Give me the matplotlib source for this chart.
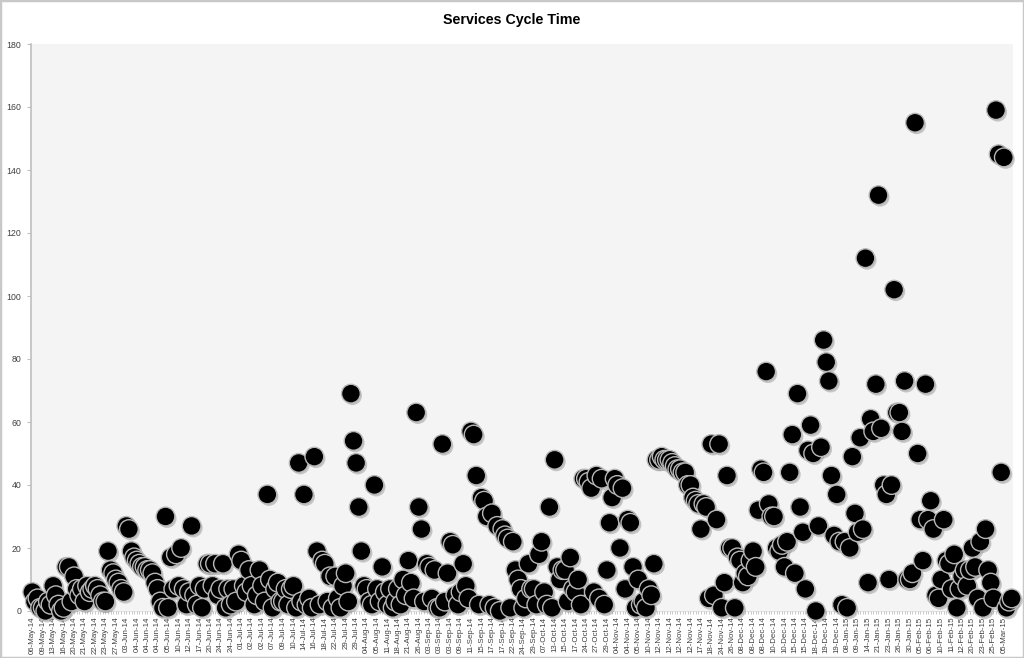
import matplotlib
matplotlib.use("Agg")
import matplotlib.pyplot as plt
import matplotlib.patheffects as pe
from matplotlib.patches import Rectangle
import numpy as np

title = "Services Cycle Time"

# one tick label per 4 data points
tick_labels = [
    "06-May-14", "09-May-14", "13-May-14", "16-May-14", "20-May-14", "21-May-14",
    "22-May-14", "23-May-14", "27-May-14", "03-Jun-14", "04-Jun-14", "04-Jun-14",
    "04-Jun-14", "05-Jun-14", "10-Jun-14", "12-Jun-14", "17-Jun-14", "20-Jun-14",
    "24-Jun-14", "24-Jun-14", "01-Jul-14", "02-Jul-14", "02-Jul-14", "07-Jul-14",
    "09-Jul-14", "10-Jul-14", "14-Jul-14", "16-Jul-14", "18-Jul-14", "22-Jul-14",
    "29-Jul-14", "29-Jul-14", "04-Aug-14", "05-Aug-14", "11-Aug-14", "18-Aug-14",
    "21-Aug-14", "26-Aug-14", "03-Sep-14", "03-Sep-14", "03-Sep-14", "09-Sep-14",
    "11-Sep-14", "15-Sep-14", "17-Sep-14", "17-Sep-14", "22-Sep-14", "24-Sep-14",
    "29-Sep-14", "07-Oct-14", "13-Oct-14", "15-Oct-14", "17-Oct-14", "24-Oct-14",
    "27-Oct-14", "29-Oct-14", "04-Nov-14", "04-Nov-14", "05-Nov-14", "10-Nov-14",
    "12-Nov-14", "12-Nov-14", "12-Nov-14", "12-Nov-14", "17-Nov-14", "18-Nov-14",
    "24-Nov-14", "26-Nov-14", "08-Dec-14", "08-Dec-14", "08-Dec-14", "10-Dec-14",
    "10-Dec-14", "15-Dec-14", "15-Dec-14", "18-Dec-14", "19-Dec-14", "19-Dec-14",
    "08-Jan-15", "09-Jan-15", "14-Jan-15", "21-Jan-15", "23-Jan-15", "26-Jan-15",
    "30-Jan-15", "05-Feb-15", "06-Feb-15", "10-Feb-15", "11-Feb-15", "12-Feb-15",
    "20-Feb-15", "23-Feb-15", "25-Feb-15", "05-Mar-15",
]

# cycle time (days), 4 values per tick label
cycle_may_jun = [
    6, 3, 4, 1,   1, 0, 3, 2,   8, 5, 2, 0,   1, 14, 14, 3,
    11, 7, 5, 7,  3, 8, 6, 7,   8, 7, 5, 3,   3, 19, 13, 12,
    10, 9, 7, 6,  27, 26, 19, 17,  16, 15, 14, 14,  13, 13, 12, 9,
    7, 3, 1, 30,  1, 17, 7, 18,  8, 20, 7, 2,  6, 27, 5, 2,
    8, 1, 7, 15,  15, 8, 15, 5,  7, 15, 1, 7,  2, 7, 3, 18,
]
cycle_jul_aug = [
    16, 8, 6, 13,  8, 2, 5, 13,  8, 3, 37, 10,  1, 7, 9, 3,
    3, 7, 2, 7,   8, 1, 47, 3,  37, 2, 4, 1,  49, 19, 2, 16,
    15, 3, 11, 1,  11, 4, 1, 8,  12, 3, 69, 54,  47, 33, 19, 8,
    7, 3, 2, 40,  7, 3, 14, 6,  2, 7, 1, 3,  7, 2, 10, 5,
    16, 9, 4, 63,  33, 26, 3, 15,
]
cycle_sep_oct = [
    14, 4, 13, 1,  1, 53, 3, 12,  22, 21, 5, 2,  6, 15, 8, 4,
    57, 56, 43, 2,  36, 35, 30, 2,  31, 1, 27, 0,  26, 24, 23, 1,
    22, 13, 10, 7,  1, 4, 15, 7,  7, 2, 18, 22,  6, 2, 33, 1,
    48, 14, 10, 13,  13, 3, 17, 7,  6, 10, 2, 42,  42, 41, 39, 6,
    43, 4, 42, 2,
]
cycle_nov_dec = [
    13, 28, 36, 42,  40, 20, 39, 7,  29, 28, 14, 1,  10, 2, 3, 1,
    7, 5, 15, 48,  48, 49, 48, 48,  48, 47, 46, 45,  45, 44, 44, 40,
    40, 36, 35, 34,  26, 34, 33, 4,  53, 5, 29, 53,  1, 9, 43, 20,
    20, 1, 17, 16,  9, 12, 11, 16,  19, 14, 32, 45,  44, 76, 34, 30,
    30, 20, 19, 21,  14, 22, 44, 56,  12, 69, 33, 25,  7, 51, 59, 50,
    0, 27, 52, 86,  79, 73, 43, 24,  37, 22, 2, 22,
]
cycle_jan_mar = [
    1, 20, 49, 31,  25, 55, 26, 112,  9, 61, 57, 72,  132, 58, 40, 37,
    10, 40, 102, 63,  63, 57, 73, 10,  10, 12, 155, 50,  29, 16, 72, 29,
    35, 26, 5, 4,  10, 29, 16, 15,  7, 18, 1, 7,  11, 13, 8, 13,
    20, 14, 4, 22,  1, 26, 13, 9,  4, 159, 145, 44,  144, 1, 3, 4,
]

values = cycle_may_jun + cycle_jul_aug + cycle_sep_oct + cycle_nov_dec + cycle_jan_mar
label_step = 4

fig = plt.figure(figsize=(10.24, 6.58), dpi=100)
fig.patch.set_facecolor("white")
ax = fig.add_axes([31 / 1024, 47 / 658, (1013 - 31) / 1024, (611 - 44) / 658])
ax.set_facecolor("#f4f4f4")

x = np.arange(len(values))
line, = ax.plot(x, values, linestyle="none", marker="o", markersize=13.5,
                markerfacecolor="black", markeredgecolor="#b8b8b8",
                markeredgewidth=1.0, zorder=3, clip_on=False)
line.set_path_effects([pe.SimplePatchShadow(offset=(1.2, -1.5), shadow_rgbFace="#8c8c8c", alpha=0.45),
                       pe.Normal()])

ax.set_xlim(-0.5, len(values) - 0.5)
ax.set_ylim(0, 180)
ax.set_yticks(np.arange(0, 181, 20))

tick_pos = np.arange(0, len(values), label_step)[:len(tick_labels)]
ax.set_xticks(tick_pos)
ax.set_xticklabels(tick_labels[:len(tick_pos)], rotation=90,
                   fontsize=5.7, family="Liberation Sans", color="#404040")
ax.set_xticks(x, minor=True)
ax.tick_params(axis="x", which="both", length=2.5, width=0.6, color="#bfbfbf", pad=1.5)

for lab in ax.get_yticklabels():
    lab.set_fontfamily("Liberation Sans")
ax.tick_params(axis="y", labelsize=6.3, labelcolor="#404040", length=3, width=0.8,
               color="#bfbfbf", pad=4)

for s in ["top", "right"]:
    ax.spines[s].set_visible(False)
ax.spines["left"].set_color("#bfbfbf")
ax.spines["left"].set_linewidth(1.2)
ax.spines["bottom"].set_color("#d9d9d9")
ax.spines["bottom"].set_linewidth(0.6)

fig.text(0.5, 1 - 20 / 658, title, ha="center", va="center",
         fontsize=10.3, fontweight="bold", family="Liberation Sans", color="black")

fig.patches.append(Rectangle((0, 0), 1, 1, transform=fig.transFigure, fill=False,
                             edgecolor="#c8c8c8", linewidth=2.5))

fig.savefig("out.png", dpi=100, facecolor="white")
